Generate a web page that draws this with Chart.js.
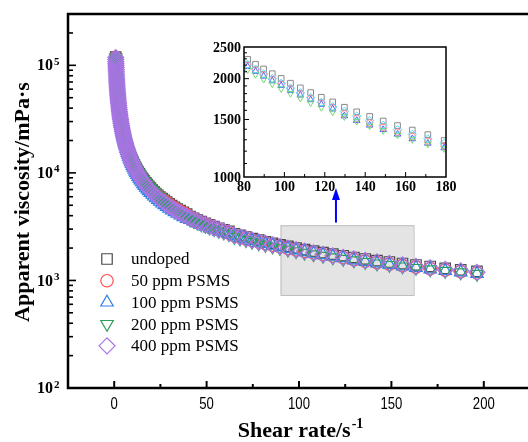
<!DOCTYPE html>
<html>
<head>
<meta charset="utf-8">
<script src="https://cdn.jsdelivr.net/npm/chart.js@4.4.1/dist/chart.umd.min.js"></script>
<style>
  html, body { margin: 0; padding: 0; background: #fff; overflow: hidden; }
  #wrap { position: relative; width: 528px; height: 442px; overflow: hidden; }
  #main { position: absolute; left: 0; top: 0; }
  #inset { position: absolute; left: 200px; top: 30px; }
</style>
</head>
<body>
<div id="wrap">
  <canvas id="main" width="530" height="442"></canvas>
  <canvas id="inset" width="260" height="170"></canvas>
</div>
<script>
// shear rate (s-1), listed from the highest rate down
const shearRate = [
  196.3, 187.5, 179.1, 171.0, 163.3, 156.0, 148.9, 142.2, 135.8, 129.7,
  123.9, 118.3, 113.0, 107.9, 103.0, 98.4, 94.0, 89.7, 85.7, 81.8,
  78.2, 74.6, 71.3, 68.1, 65.0, 62.1, 59.3, 56.6, 54.1, 51.6,
  49.3, 47.1, 45.0, 43.0, 41.0, 39.2, 37.4, 35.7, 34.1, 32.6,
  31.1, 29.7, 28.4, 27.1, 25.9, 24.7, 23.6, 22.5, 21.5, 20.6,
  19.6, 18.7, 17.9, 17.1, 16.3, 15.6, 14.9, 14.2, 13.6, 13.0,
  12.4, 11.8, 11.3, 10.8, 10.3, 9.84, 9.40, 8.97, 8.57, 8.18,
  7.82, 7.46, 7.13, 6.81, 6.50, 6.21, 5.93, 5.66, 5.41, 5.16,
  4.93, 4.71, 4.50, 4.30, 4.10, 3.92, 3.74, 3.57, 3.41, 3.26,
  3.11, 2.97, 2.84, 2.71, 2.59, 2.47, 2.36, 2.25, 2.15, 2.06,
  1.96, 1.87, 1.79, 1.71, 1.63, 1.56, 1.49, 1.42, 1.36, 1.30,
  1.24, 1.18, 1.13, 1.08, 1.03, 0.984, 0.940, 0.897, 0.857, 0.818
];

// apparent viscosity (mPa·s)
const undoped = [
  1214, 1253, 1293, 1348, 1392, 1437, 1484, 1532, 1583, 1635,
  1698, 1754, 1813, 1874, 1937, 2003, 2071, 2141, 2214, 2290,
  2369, 2451, 2536, 2625, 2717, 2854, 2955, 3059, 3168, 3282,
  3399, 3522, 3649, 3781, 3919, 4141, 4292, 4451, 4616, 4787,
  4964, 5150, 5343, 5544, 5753, 5971, 6198, 6434, 6681, 6937,
  7205, 7483, 7773, 8076, 8391, 8719, 9062, 9419, 9791, 10180,
  10580, 11010, 11450, 11900, 12380, 12880, 13400, 13950, 14510, 15100,
  15720, 16370, 17040, 17740, 18470, 19240, 20030, 20870, 21740, 22650,
  23590, 24580, 25620, 26700, 27830, 29000, 30230, 31520, 32860, 34260,
  35050, 36550, 38120, 39760, 41470, 43260, 45130, 47080, 49120, 51260,
  53490, 55820, 58260, 60810, 63470, 64970, 67820, 70810, 73920, 77180,
  80600, 84160, 87890, 91780, 95860, 100100, 104600, 109200, 114100, 119200
];
const ppm50 = [
  1172, 1209, 1248, 1288, 1330, 1373, 1418, 1464, 1512, 1562,
  1631, 1685, 1741, 1800, 1860, 1924, 1989, 2056, 2126, 2200,
  2276, 2355, 2437, 2521, 2610, 2771, 2869, 2970, 3076, 3186,
  3300, 3419, 3543, 3671, 3805, 4102, 4252, 4409, 4572, 4741,
  4917, 5101, 5293, 5491, 5698, 5914, 6139, 6373, 6618, 6871,
  7136, 7412, 7699, 7999, 8311, 8636, 8975, 9329, 9698, 10080,
  10480, 10900, 11340, 11790, 12260, 12760, 13280, 13810, 14370, 14960,
  15570, 16210, 16880, 17570, 18300, 19050, 19840, 20670, 21530, 22430,
  23370, 24350, 25370, 26440, 27560, 28730, 29940, 31220, 32550, 33940,
  34710, 36190, 37750, 39370, 41070, 42840, 44690, 46630, 48650, 50760,
  52970, 55280, 57690, 60220, 62850, 64330, 67150, 70100, 73190, 76420,
  79800, 83330, 87020, 90880, 94910, 99130, 103500, 108200, 113000, 118000
];
const ppm100 = [
  1153, 1190, 1228, 1268, 1309, 1352, 1396, 1441, 1489, 1538,
  1614, 1668, 1723, 1781, 1841, 1904, 1969, 2035, 2105, 2177,
  2252, 2330, 2412, 2495, 2583, 2660, 2754, 2851, 2953, 3059,
  3168, 3282, 3401, 3524, 3653, 3747, 3884, 4027, 4176, 4331,
  4492, 4660, 4835, 5016, 5205, 5403, 5608, 5822, 6045, 6277,
  6519, 6771, 7033, 7306, 7591, 7889, 8199, 8522, 8859, 9209,
  9575, 9957, 10360, 10770, 11200, 11650, 12130, 12620, 13130, 13670,
  14220, 14810, 15410, 16050, 16710, 17400, 18130, 18880, 19670, 20490,
  21350, 22240, 23180, 24150, 25180, 26240, 27350, 28520, 29730, 31000,
  33010, 34420, 35900, 37440, 39050, 40740, 42500, 44340, 46260, 48270,
  50370, 52570, 54860, 57260, 59770, 63680, 66480, 69400, 72460, 75660,
  79000, 82490, 86150, 89970, 93960, 98140, 102500, 107100, 111900, 116900
];
const ppm200 = [
  1147, 1184, 1222, 1262, 1302, 1345, 1388, 1434, 1481, 1530,
  1581, 1633, 1688, 1744, 1803, 1864, 1928, 1993, 2061, 2132,
  2206, 2282, 2362, 2444, 2530, 2688, 2783, 2881, 2984, 3090,
  3201, 3316, 3437, 3561, 3691, 3944, 4088, 4239, 4396, 4559,
  4728, 4905, 5089, 5280, 5479, 5858, 6080, 6312, 6554, 6805,
  7068, 7341, 7625, 7922, 8231, 8553, 8889, 9239, 9605, 9985,
  10380, 10800, 11230, 11680, 12150, 12640, 13150, 13680, 14240, 14820,
  15420, 16050, 16710, 17400, 18120, 18870, 19650, 20470, 21320, 22210,
  23140, 24110, 25130, 26190, 27300, 28450, 29660, 30920, 32230, 33610,
  34370, 35840, 37380, 38980, 40660, 42420, 44250, 46170, 48170, 50260,
  52450, 54740, 57130, 59630, 62240, 64330, 67150, 70100, 73190, 76420,
  79800, 83330, 87020, 90880, 94910, 99130, 103500, 108200, 113000, 118000
];
const ppm400 = [
  1190, 1228, 1267, 1308, 1350, 1395, 1440, 1487, 1536, 1587,
  1640, 1693, 1750, 1809, 1870, 1934, 1999, 2067, 2137, 2211,
  2287, 2367, 2449, 2534, 2623, 2771, 2869, 2970, 3076, 3186,
  3300, 3419, 3543, 3671, 3805, 3944, 4088, 4239, 4396, 4559,
  4728, 4905, 5089, 5280, 5479, 5687, 5903, 6128, 6363, 6607,
  6862, 7127, 7403, 7691, 7991, 8304, 8630, 8970, 9325, 9694,
  10080, 10480, 10900, 11340, 11790, 12270, 12770, 13280, 13820, 14390,
  14970, 15590, 16230, 16900, 17590, 18320, 19080, 19870, 20700, 21570,
  22470, 23410, 24400, 25430, 26500, 27620, 28790, 30020, 31300, 32630,
  34030, 35480, 37010, 38600, 40260, 42000, 43810, 45710, 47690, 49770,
  51930, 54200, 56560, 59040, 61620, 64330, 67150, 70100, 73190, 76420,
  79800, 83330, 87020, 90880, 94910, 99130, 103500, 108200, 113000, 118000
];

const seriesNames = ['undoped', '50 ppm PSMS', '100 ppm PSMS', '200 ppm PSMS', '400 ppm PSMS'];
const xTicks = [0, 50, 100, 150, 200];
const yTicks = [100, 1000, 10000, 100000];
const insetXTicks = [80, 100, 120, 140, 160, 180];
const insetYTicks = [1000, 1500, 2000, 2500];

// zoomed region (shear rate, viscosity) and arrow towards the inset
const zoomBox = { x0: 90, x1: 162, y0: 733, y1: 3260 };
const arrow = { x: 120, from: 3450, to: 7250 };

const allSeries = [undoped, ppm50, ppm100, ppm200, ppm400];
const mainColors = ['#4a4a4a', '#ff4d4d', '#2f7fe6', '#2e9e5b', '#a874e3'];
const insetColors = ['#8a8a8a', '#ff8585', '#5a5aff', '#72dc72', '#55d6ff'];
const shapes = [
  { style: 'rect', rot: 0 },
  { style: 'circle', rot: 0 },
  { style: 'triangle', rot: 0 },
  { style: 'triangle', rot: 180 },
  { style: 'rectRot', rot: 0 }
];
const mainRadius = [7.4, 6.2, 7.2, 7.2, 8];
const insetRadius = [4, 3.2, 3.8, 3.8, 4.2];

const SERIF = '"Liberation Serif", "Times New Roman", serif';
const SANS = '"Liberation Sans", Arial, sans-serif';

function makeDatasets(colors, radius, lw) {
  return allSeries.map((vals, i) => ({
    label: seriesNames[i],
    data: shearRate.map((x, k) => ({ x: x, y: vals[k] })),
    showLine: false,
    pointStyle: shapes[i].style,
    rotation: shapes[i].rot,
    pointRadius: radius[i],
    pointHoverRadius: radius[i],
    pointBorderColor: colors[i],
    pointBackgroundColor: 'rgba(0,0,0,0)',
    pointBorderWidth: lw,
    order: allSeries.length - 1 - i
  }));
}

function drawMarker(ctx, shape, r, cx, cy) {
  ctx.beginPath();
  if (shape.style === 'circle') {
    ctx.arc(cx, cy, r, 0, Math.PI * 2);
  } else if (shape.style === 'rect') {
    const h = r * Math.SQRT1_2;
    ctx.rect(cx - h, cy - h, 2 * h, 2 * h);
  } else if (shape.style === 'rectRot') {
    ctx.moveTo(cx - r, cy); ctx.lineTo(cx, cy - r);
    ctx.lineTo(cx + r, cy); ctx.lineTo(cx, cy + r);
    ctx.closePath();
  } else {
    let a = shape.rot * Math.PI / 180;
    for (let k = 0; k < 3; k++) {
      const px = cx + Math.sin(a) * r, py = cy - Math.cos(a) * r;
      if (k === 0) ctx.moveTo(px, py); else ctx.lineTo(px, py);
      a += 2 * Math.PI / 3;
    }
    ctx.closePath();
  }
  ctx.stroke();
}

function minorLogTicks(lo, hi) {
  const out = [];
  for (let d = lo; d < hi; d *= 10) {
    for (let m = 2; m <= 9; m++) if (m * d <= hi) out.push(m * d);
  }
  return out;
}

const mainDecor = {
  id: 'mainDecor',
  beforeDatasetsDraw(chart) {
    const { ctx, scales: { x, y } } = chart;
    const l = x.getPixelForValue(zoomBox.x0), r = x.getPixelForValue(zoomBox.x1);
    const t = y.getPixelForValue(zoomBox.y1), b = y.getPixelForValue(zoomBox.y0);
    ctx.save();
    ctx.fillStyle = '#e4e4e4';
    ctx.fillRect(l, t, r - l, b - t);
    ctx.strokeStyle = '#bdbdbd';
    ctx.lineWidth = 1;
    ctx.strokeRect(l + 0.5, t + 0.5, r - l, b - t);
    ctx.restore();
  },
  afterDraw(chart) {
    const { ctx, chartArea: a, scales: { x, y } } = chart;
    ctx.save();
    // frame
    ctx.strokeStyle = '#000';
    ctx.lineWidth = 2.5;
    ctx.strokeRect(a.left, a.top, a.right - a.left, a.bottom - a.top);

    // x ticks (inward)
    ctx.lineWidth = 2;
    for (let v = 0; v <= 200; v += 25) {
      const px = x.getPixelForValue(v);
      const len = v % 50 === 0 ? 7 : 4;
      ctx.beginPath(); ctx.moveTo(px, a.bottom); ctx.lineTo(px, a.bottom - len); ctx.stroke();
    }

    // y ticks (inward)
    ctx.lineWidth = 1.6;
    yTicks.forEach(v => {
      const py = y.getPixelForValue(v);
      ctx.beginPath(); ctx.moveTo(a.left, py); ctx.lineTo(a.left + 8, py); ctx.stroke();
    });
    minorLogTicks(100, 300000).forEach(v => {
      const py = y.getPixelForValue(v);
      ctx.beginPath(); ctx.moveTo(a.left, py); ctx.lineTo(a.left + 5, py); ctx.stroke();
    });

    // x tick labels
    ctx.fillStyle = '#000';
    ctx.font = '16px ' + SANS;
    ctx.textAlign = 'center';
    ctx.textBaseline = 'middle';
    xTicks.forEach(v => {
      ctx.save();
      ctx.translate(x.getPixelForValue(v), 405);
      ctx.scale(0.82, 1);
      ctx.fillText(String(v), 0, 0);
      ctx.restore();
    });

    // y tick labels 10^n
    yTicks.forEach(v => {
      const py = y.getPixelForValue(v);
      ctx.font = 'bold 16px ' + SERIF;
      ctx.textAlign = 'right';
      ctx.textBaseline = 'middle';
      ctx.fillText('10', 53, py + 1);
      ctx.font = 'bold 11px ' + SERIF;
      ctx.textAlign = 'left';
      ctx.textBaseline = 'alphabetic';
      ctx.fillText(String(Math.round(Math.log10(v))), 54, py - 0.5);
    });

    // axis titles
    ctx.font = 'bold 22px ' + SERIF;
    ctx.textAlign = 'left';
    ctx.textBaseline = 'alphabetic';
    const xt = 'Shear rate/s';
    const wt = ctx.measureText(xt).width;
    ctx.font = 'bold 14px ' + SERIF;
    const ws = ctx.measureText('-1').width;
    const sx = 300 - (wt + ws) / 2;
    ctx.font = 'bold 22px ' + SERIF;
    ctx.fillText(xt, sx, 437);
    ctx.font = 'bold 14px ' + SERIF;
    ctx.fillText('-1', sx + wt + 1, 428);

    ctx.save();
    ctx.translate(23, 202);
    ctx.rotate(-Math.PI / 2);
    ctx.font = 'bold 22px ' + SERIF;
    ctx.textAlign = 'center';
    ctx.textBaseline = 'middle';
    ctx.fillText('Apparent viscosity/mPa\u00b7s', 0, 0);
    ctx.restore();

    // legend
    seriesNames.forEach((name, i) => {
      const ly = 259 + i * 21.7;
      ctx.strokeStyle = mainColors[i];
      ctx.lineWidth = 1.2;
      drawMarker(ctx, shapes[i], mainRadius[i], 107, ly);
      ctx.fillStyle = '#000';
      ctx.font = '17px ' + SERIF;
      ctx.textAlign = 'left';
      ctx.textBaseline = 'middle';
      ctx.fillText(name, 131, ly + 1);
    });

    // arrow to inset
    const ax = x.getPixelForValue(arrow.x);
    const ay0 = y.getPixelForValue(arrow.from), ay1 = y.getPixelForValue(arrow.to);
    ctx.strokeStyle = '#0000ff';
    ctx.fillStyle = '#0000ff';
    ctx.lineWidth = 2;
    ctx.beginPath(); ctx.moveTo(ax, ay0); ctx.lineTo(ax, ay1 + 10); ctx.stroke();
    ctx.beginPath();
    ctx.moveTo(ax, ay1); ctx.lineTo(ax - 4, ay1 + 12); ctx.lineTo(ax + 4, ay1 + 12);
    ctx.closePath(); ctx.fill();
    ctx.restore();
  }
};

const insetDecor = {
  id: 'insetDecor',
  beforeDatasetsDraw(chart) {
    const { ctx, chartArea: a } = chart;
    ctx.save();
    ctx.fillStyle = '#fff';
    ctx.fillRect(a.left, a.top, a.right - a.left, a.bottom - a.top);
    ctx.restore();
  },
  afterDraw(chart) {
    const { ctx, chartArea: a, scales: { x, y } } = chart;
    ctx.save();
    ctx.strokeStyle = '#000';
    ctx.lineWidth = 1.5;
    ctx.strokeRect(a.left, a.top, a.right - a.left, a.bottom - a.top);
    ctx.lineWidth = 1;
    for (let v = 90; v < 180; v += 10) {
      const px = x.getPixelForValue(v);
      const len = (v - 80) % 20 === 0 ? 5 : 3;
      ctx.beginPath(); ctx.moveTo(px, a.bottom); ctx.lineTo(px, a.bottom - len); ctx.stroke();
    }
    for (let v = 1100; v < 2500; v += 100) {
      const py = y.getPixelForValue(v);
      const len = v % 500 === 0 ? 5 : 3;
      ctx.beginPath(); ctx.moveTo(a.left, py); ctx.lineTo(a.left + len, py); ctx.stroke();
    }
    ctx.fillStyle = '#000';
    ctx.font = 'bold 14px ' + SERIF;
    ctx.textAlign = 'right';
    ctx.textBaseline = 'middle';
    insetYTicks.forEach(v => ctx.fillText(String(v), a.left - 3, y.getPixelForValue(v) + 1));
    ctx.textAlign = 'center';
    insetXTicks.forEach(v => ctx.fillText(String(v), x.getPixelForValue(v), a.bottom + 10));
    ctx.restore();
  }
};

new Chart(document.getElementById('main'), {
  type: 'scatter',
  data: { datasets: makeDatasets(mainColors, mainRadius, 1.2) },
  options: {
    responsive: false,
    animation: false,
    events: [],
    layout: { autoPadding: false, padding: { top: 14, right: 0, left: 0, bottom: 0 } },
    plugins: { legend: { display: false }, tooltip: { enabled: false } },
    scales: {
      x: {
        type: 'linear', min: -25, max: 225,
        ticks: { display: false }, grid: { display: false }, border: { display: false },
        afterFit: s => { s.height = 54; }
      },
      y: {
        type: 'logarithmic', min: 100, max: 300000,
        ticks: { display: false }, grid: { display: false }, border: { display: false },
        afterFit: s => { s.width = 68; }
      }
    }
  },
  plugins: [mainDecor]
});

new Chart(document.getElementById('inset'), {
  type: 'scatter',
  data: { datasets: makeDatasets(insetColors, insetRadius, 1) },
  options: {
    responsive: false,
    animation: false,
    events: [],
    layout: { autoPadding: false, padding: { top: 17, right: 14, left: 0, bottom: 0 } },
    plugins: { legend: { display: false }, tooltip: { enabled: false } },
    scales: {
      x: {
        type: 'linear', min: 80, max: 180,
        ticks: { display: false }, grid: { display: false }, border: { display: false },
        afterFit: s => { s.height = 23; }
      },
      y: {
        type: 'logarithmic', min: 1000, max: 2500,
        ticks: { display: false }, grid: { display: false }, border: { display: false },
        afterFit: s => { s.width = 44; }
      }
    }
  },
  plugins: [insetDecor]
});
</script>
</body>
</html>
